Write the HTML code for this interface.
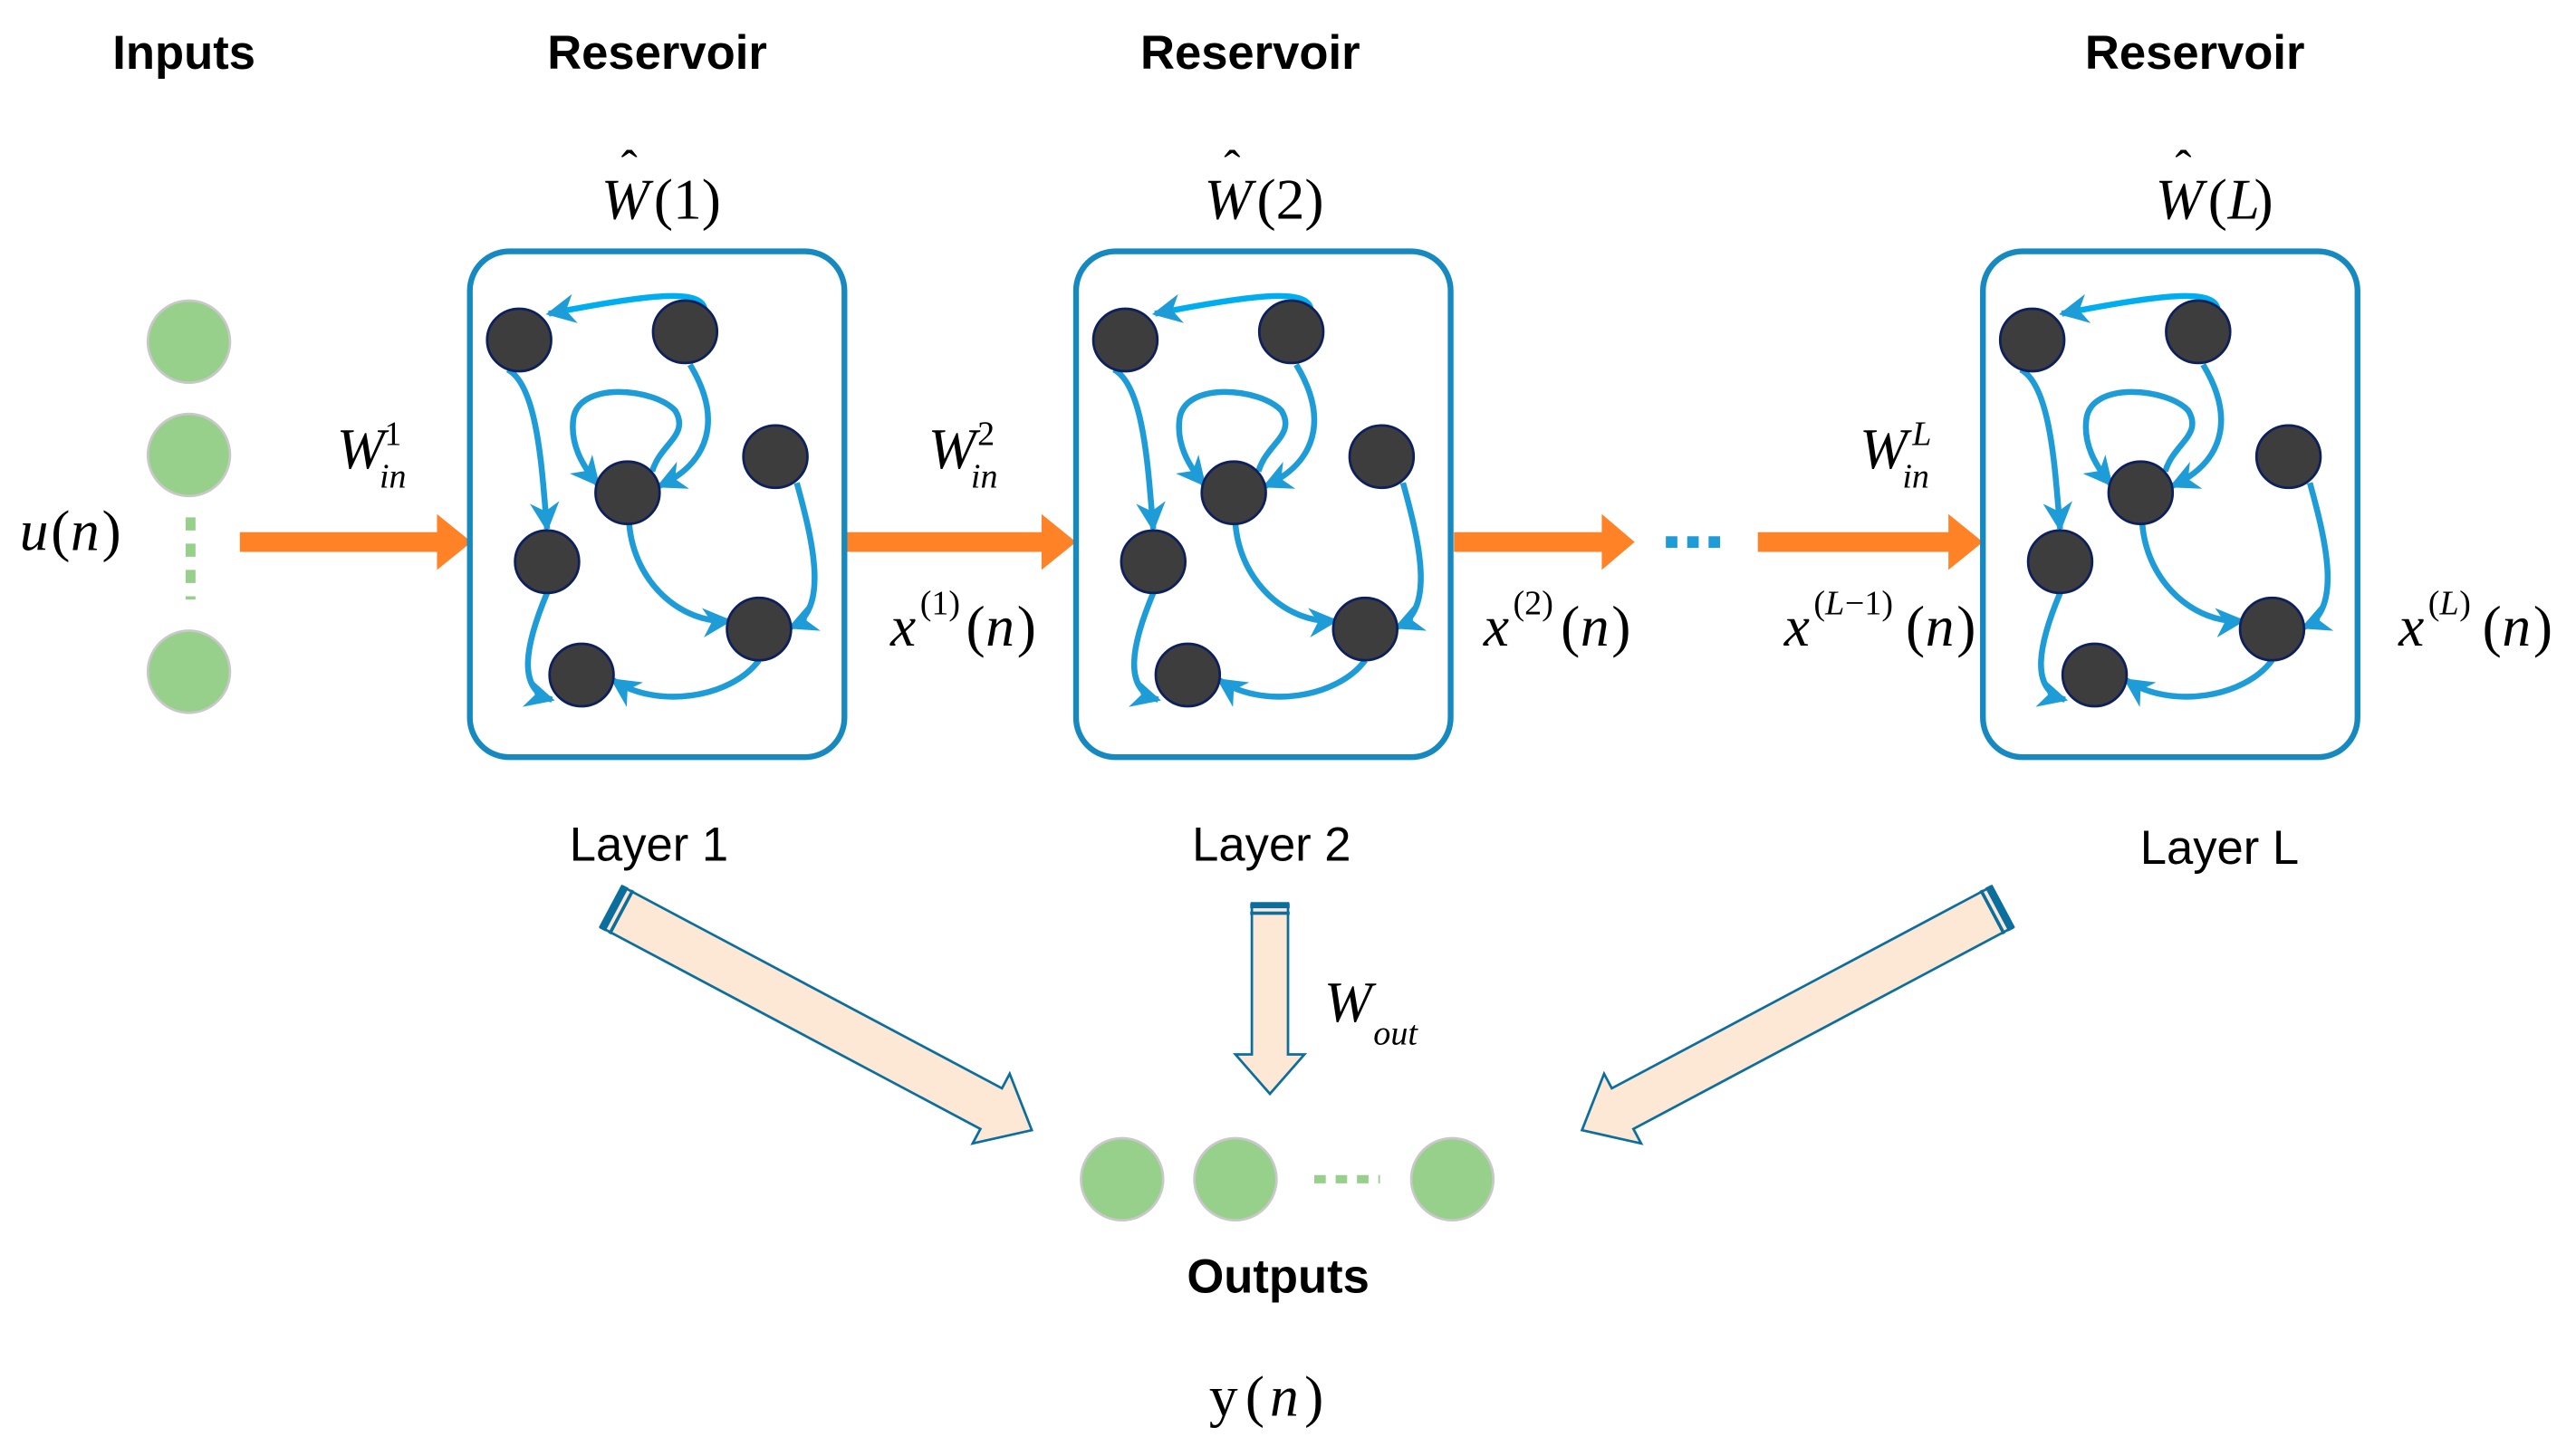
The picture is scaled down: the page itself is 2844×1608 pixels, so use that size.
<!DOCTYPE html>
<html><head><meta charset="utf-8"><style>
html,body{margin:0;padding:0;background:#fff;}
svg{display:block;}
.b{font-family:"Liberation Sans",sans-serif;font-weight:bold;font-size:29px;fill:#000;text-anchor:middle;}
.l{font-family:"Liberation Sans",sans-serif;font-size:29px;fill:#000;text-anchor:middle;}
.m{font-family:"Liberation Serif",serif;font-style:italic;font-size:35px;fill:#000;}
.r{font-family:"Liberation Serif",serif;font-style:normal;font-size:35px;fill:#000;}
.s{font-family:"Liberation Serif",serif;font-style:italic;font-size:21px;fill:#000;}
.sn{font-family:"Liberation Serif",serif;font-size:21px;fill:#000;}
</style></head><body>
<svg width="2844" height="1608" viewBox="0 0 1568 886.5" xmlns="http://www.w3.org/2000/svg">
<defs>
<marker id="a" viewBox="0 0 10 10" refX="9" refY="5" markerWidth="18" markerHeight="18" markerUnits="userSpaceOnUse" orient="auto">
<path d="M0,0 L10,5 L0,10 L3,5 Z" fill="#1e9cd7"/></marker>
<g id="res">
<rect x="286" y="153" width="228" height="308" rx="24" fill="none" stroke="#1689c0" stroke-width="3.5"/>
<g fill="none" stroke="#1e9cd7" stroke-width="3.6" marker-end="url(#a)">
<path d="M429,189 C428,176 400,178 334,191" stroke="#00aeef"/>
<path d="M309,225 C328,235 330,290 333,322"/>
<path d="M420,222 C440,255 432,282 401,296"/>
<path d="M397,287 C402,270 420,265 411,250 C398,236 352,232 349,255 C347,270 354,283 364,295"/>
<path d="M383,319 C386,355 415,380 444,378"/>
<path d="M485,294 C495,330 505,372 481,382"/>
<path d="M462,402 C445,425 400,432 373,414"/>
<path d="M333,361 C320,392 314,420 336,426"/>
</g>
<g fill="#3d3d3d" stroke="#0d1f5c" stroke-width="1.5">
<ellipse cx="316" cy="207" rx="19.5" ry="19"/>
<ellipse cx="417" cy="202" rx="19.5" ry="19"/>
<ellipse cx="382" cy="300" rx="19.5" ry="19"/>
<ellipse cx="472" cy="278" rx="19.5" ry="19"/>
<ellipse cx="333" cy="342" rx="19.5" ry="19"/>
<ellipse cx="462" cy="383" rx="19.5" ry="19"/>
<ellipse cx="354" cy="411" rx="19.5" ry="19"/>
</g>
</g>
<g id="orr"><rect x="0" y="-6" width="125" height="12" fill="#ff8226"/><path d="M120,-17 L141,0 L120,17 Z" fill="#ff8226"/></g>
</defs>

<text class="b" x="112" y="42">Inputs</text>
<text class="b" x="400" y="42">Reservoir</text>
<text class="b" x="761" y="42">Reservoir</text>
<text class="b" x="1336" y="42">Reservoir</text>

<text class="m" x="366" y="133">W</text><text class="r" x="378" y="112" style="font-size:30px">ˆ</text><text class="r" x="398" y="133">(1)</text>
<text class="m" x="733" y="133">W</text><text class="r" x="745" y="112" style="font-size:30px">ˆ</text><text class="r" x="765" y="133">(2)</text>
<text class="m" x="1312" y="133">W</text><text class="r" x="1324" y="112" style="font-size:30px">ˆ</text><text class="r" x="1344" y="133">(</text><text class="m" x="1356" y="133">L</text><text class="r" x="1372" y="133">)</text>

<circle cx="115" cy="208" r="25" fill="#96d08a" stroke="#c8c8c8" stroke-width="1.5"/>
<circle cx="115" cy="277" r="25" fill="#96d08a" stroke="#c8c8c8" stroke-width="1.5"/>
<circle cx="115" cy="409" r="25" fill="#96d08a" stroke="#c8c8c8" stroke-width="1.5"/>
<line x1="116" y1="315" x2="116" y2="365" stroke="#96d08a" stroke-width="6" stroke-dasharray="8,8"/>
<text class="m" x="12" y="335">u</text><text class="r" x="31" y="335">(</text><text class="m" x="43" y="335">n</text><text class="r" x="62" y="335">)</text>

<use href="#orr" x="146" y="330"/>
<use href="#orr" x="514" y="330"/>
<g transform="translate(885,330)"><rect x="0" y="-6" width="95" height="12" fill="#ff8226"/><path d="M90,-17 L110,0 L90,17 Z" fill="#ff8226"/></g>
<g transform="translate(1070,330)"><rect x="0" y="-6" width="120" height="12" fill="#ff8226"/><path d="M116,-17 L137,0 L116,17 Z" fill="#ff8226"/></g>
<line x1="1014" y1="330" x2="1052" y2="330" stroke="#1e9cd7" stroke-width="7" stroke-dasharray="7,6"/>

<use href="#res"/>
<use href="#res" x="369"/>
<use href="#res" x="921"/>

<text class="m" x="205" y="285">W</text><text class="sn" x="234" y="271">1</text><text class="s" x="231" y="297">in</text>
<text class="m" x="565" y="285">W</text><text class="sn" x="595" y="271">2</text><text class="s" x="591" y="297">in</text>
<text class="m" x="1132" y="285">W</text><text class="s" x="1164" y="271">L</text><text class="s" x="1158" y="297">in</text>

<text class="m" x="542" y="393">x</text><text class="sn" x="560" y="374">(1)</text><text class="r" x="588" y="393">(</text><text class="m" x="600" y="393">n</text><text class="r" x="619" y="393">)</text>
<text class="m" x="903" y="393">x</text><text class="sn" x="921" y="374">(2)</text><text class="r" x="950" y="393">(</text><text class="m" x="962" y="393">n</text><text class="r" x="981" y="393">)</text>
<text class="m" x="1086" y="393">x</text><text class="sn" x="1104" y="374">(</text><text class="s" x="1111" y="374">L</text><text class="sn" x="1123" y="374">−1)</text><text class="r" x="1160" y="393">(</text><text class="m" x="1172" y="393">n</text><text class="r" x="1191" y="393">)</text>
<text class="m" x="1460" y="393">x</text><text class="sn" x="1478" y="374">(</text><text class="s" x="1485" y="374">L</text><text class="sn" x="1497" y="374">)</text><text class="r" x="1511" y="393">(</text><text class="m" x="1523" y="393">n</text><text class="r" x="1542" y="393">)</text>

<text class="l" x="395" y="524">Layer 1</text>
<text class="l" x="774" y="524">Layer 2</text>
<text class="l" x="1351" y="526">Layer L</text>

<g transform="translate(372,552) rotate(28)"><path d="M0,-14 L262,-14 L262,-24 L290,0 L262,24 L262,14 L0,14 Z" fill="#fde7d5" stroke="#0b6e9d" stroke-width="1.5"/><rect x="0" y="-15" width="4" height="30" fill="#0b6e9d"/><rect x="6" y="-15" width="2" height="30" fill="#0b6e9d"/></g>
<g transform="translate(773,550) rotate(90)"><path d="M0,-11 L92,-11 L92,-21 L116,0 L92,21 L92,11 L0,11 Z" fill="#fde7d5" stroke="#0b6e9d" stroke-width="1.5"/><rect x="0" y="-12" width="3" height="24" fill="#0b6e9d"/><rect x="5" y="-12" width="2" height="24" fill="#0b6e9d"/></g>
<g transform="translate(1219,552) rotate(152)"><path d="M0,-14 L262,-14 L262,-24 L290,0 L262,24 L262,14 L0,14 Z" fill="#fde7d5" stroke="#0b6e9d" stroke-width="1.5"/><rect x="0" y="-15" width="4" height="30" fill="#0b6e9d"/><rect x="6" y="-15" width="2" height="30" fill="#0b6e9d"/></g>

<text class="m" x="806" y="622">W</text><text class="s" x="836" y="636">out</text>

<circle cx="683" cy="718" r="25" fill="#96d08a" stroke="#c8c8c8" stroke-width="1.5"/>
<circle cx="752" cy="718" r="25" fill="#96d08a" stroke="#c8c8c8" stroke-width="1.5"/>
<circle cx="884" cy="718" r="25" fill="#96d08a" stroke="#c8c8c8" stroke-width="1.5"/>
<line x1="800" y1="718" x2="840" y2="718" stroke="#96d08a" stroke-width="5" stroke-dasharray="7,6"/>

<text class="b" x="778" y="787">Outputs</text>
<text class="r" x="736" y="862">y</text><text class="r" x="758" y="862">(</text><text class="m" x="773" y="862">n</text><text class="r" x="794" y="862">)</text>
</svg>
</body></html>
